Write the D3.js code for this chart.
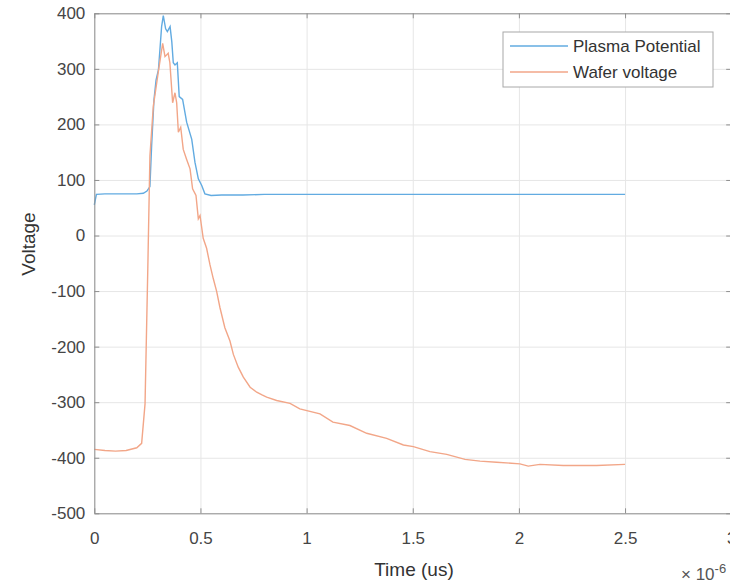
<!DOCTYPE html>
<html>
<head>
<meta charset="utf-8">
<script src="https://d3js.org/d3.v7.min.js"></script>
<style>
  body { margin: 0; background: #fff; }
  text { font-family: "Liberation Sans", Arial, sans-serif; }
</style>
</head>
<body>
<div id="chart"></div>
<script>
// time in microseconds (axis shows x 10^-6), voltage in V
var plasmaTime = [0, 0.01, 0.05, 0.1, 0.15, 0.2, 0.231, 0.248, 0.262, 0.270, 0.281, 0.291, 0.302, 0.309, 0.317, 0.325,
  0.336, 0.344, 0.357, 0.365, 0.372, 0.380, 0.391, 0.400, 0.416, 0.435, 0.459, 0.474, 0.490, 0.506, 0.521,
  0.55, 0.6, 0.7, 0.8, 1.0, 1.2, 1.5, 1.8, 2.0, 2.2, 2.5];
var plasmaVolt = [55, 74, 75, 75, 75, 75, 76, 80, 88, 161, 244, 280, 298, 334, 376, 396,
  372, 367, 376, 349, 311, 307, 311, 250, 245, 204, 173, 132, 102, 90, 75,
  72, 73, 73, 74, 74, 74, 74, 74, 74, 74, 74];

var waferTime = [0, 0.05, 0.1, 0.15, 0.2, 0.223, 0.239, 0.252, 0.262, 0.278, 0.301, 0.322, 0.333, 0.348, 0.356,
  0.369, 0.380, 0.388, 0.396, 0.407, 0.419, 0.435, 0.451, 0.463, 0.479, 0.490, 0.498, 0.513, 0.529, 0.545,
  0.560, 0.576, 0.592, 0.615, 0.639, 0.655, 0.678, 0.702, 0.734, 0.765, 0.790, 0.812, 0.859, 0.922, 0.968, 1.063,
  1.124, 1.204, 1.283, 1.377, 1.456, 1.503, 1.581, 1.660, 1.746, 1.817, 1.895, 2.005, 2.044, 2.099, 2.209,
  2.366, 2.5];
var waferVolt = [-385, -387, -388, -387, -382, -374, -303, -60, 143, 233, 293, 346, 322, 328, 311,
  239, 257, 239, 186, 195, 155, 137, 120, 84, 72, 30, 36, -5, -23, -53,
  -77, -100, -130, -166, -190, -214, -237, -255, -273, -282, -287, -291, -297, -302, -312, -321,
  -336, -342, -356, -365, -377, -380, -389, -394, -403, -406, -408, -411, -415, -412, -414,
  -414, -412];

var xTicks = [0, 0.5, 1, 1.5, 2, 2.5, 3];
var yTicks = [-500, -400, -300, -200, -100, 0, 100, 200, 300, 400];
var seriesNames = ["Plasma Potential", "Wafer voltage"];
var seriesColors = ["#62abe1", "#f2a688"];

var margin = {top: 13.3, right: -1.2, bottom: 70, left: 94.3},
    W = 730, H = 585,
    width = W - margin.left - margin.right,
    height = H - margin.top - margin.bottom - 1.7;

var svg = d3.select("#chart")
  .append("svg")
    .attr("width", W)
    .attr("height", H)
  .append("g")
    .attr("transform", "translate(" + margin.left + "," + margin.top + ")");

var x = d3.scaleLinear().domain([0, 3]).range([0, width]);
var y = d3.scaleLinear().domain([-500, 400]).range([height, 0]);

// grid
svg.append("g")
  .attr("class", "grid")
  .call(d3.axisBottom(x).tickValues(xTicks).tickSize(height).tickFormat(""));
svg.append("g")
  .attr("class", "grid")
  .call(d3.axisLeft(y).tickValues(yTicks).tickSize(-width).tickFormat(""));
svg.selectAll(".grid .domain").remove();
svg.selectAll(".grid line").attr("stroke", "#e6e6e6");

// lines
var plasma = plasmaTime.map(function(t, i) { return [t, plasmaVolt[i]]; });
var wafer = waferTime.map(function(t, i) { return [t, waferVolt[i]]; });
var line = d3.line()
  .x(function(d) { return x(d[0]); })
  .y(function(d) { return y(d[1]); });

svg.append("path")
  .datum(plasma)
  .attr("d", line)
  .attr("fill", "none")
  .attr("stroke", seriesColors[0])
  .attr("stroke-width", 1.4);
svg.append("path")
  .datum(wafer)
  .attr("d", line)
  .attr("fill", "none")
  .attr("stroke", seriesColors[1])
  .attr("stroke-width", 1.4);

// axes, ticks pointing in (plain hyphen for negatives like matlab)
var fmt = function(d) { return String(d); };
svg.append("g")
  .attr("class", "ax")
  .attr("transform", "translate(0," + height + ")")
  .call(d3.axisBottom(x).tickValues(xTicks).tickSizeInner(-5).tickSizeOuter(0).tickPadding(19).tickFormat(fmt));
svg.append("g")
  .attr("class", "ax")
  .call(d3.axisLeft(y).tickValues(yTicks).tickSizeInner(-5).tickSizeOuter(0).tickPadding(9).tickFormat(fmt));
svg.append("g")
  .attr("class", "ax")
  .call(d3.axisTop(x).tickValues(xTicks).tickSizeInner(-5).tickSizeOuter(0).tickFormat(""));
svg.append("g")
  .attr("class", "ax")
  .attr("transform", "translate(" + width + ",0)")
  .call(d3.axisRight(y).tickValues(yTicks).tickSizeInner(-5).tickSizeOuter(0).tickFormat(""));

svg.selectAll(".ax .domain").attr("stroke", "#8f8f8f");
svg.selectAll(".ax line").attr("stroke", "#8f8f8f");
svg.selectAll(".ax text")
  .attr("fill", "#454545")
  .style("font-size", "17px");

// axis labels
svg.append("text")
  .attr("text-anchor", "middle")
  .attr("x", 414 - margin.left)
  .attr("y", 576 - margin.top)
  .attr("fill", "#333")
  .style("font-size", "19px")
  .text("Time (us)");

svg.append("text")
  .attr("text-anchor", "middle")
  .attr("transform", "translate(" + (35 - margin.left) + "," + (244 - margin.top) + ") rotate(-90)")
  .attr("fill", "#333")
  .style("font-size", "19px")
  .text("Voltage");

var expo = svg.append("text")
  .attr("x", 681 - margin.left)
  .attr("y", 580 - margin.top)
  .attr("fill", "#555")
  .style("font-size", "17px");
expo.append("tspan").text("\u00d7 10");
expo.append("tspan")
  .attr("dy", -7)
  .style("font-size", "13px")
  .text("-6");

// legend
var lg = svg.append("g")
  .attr("transform", "translate(" + (503 - margin.left) + "," + (32 - margin.top) + ")");
lg.append("rect")
  .attr("width", 210)
  .attr("height", 55)
  .attr("fill", "#fff")
  .attr("stroke", "#a8a8a8");
seriesNames.forEach(function(name, i) {
  var cy = 14 + i * 26;
  lg.append("line")
    .attr("x1", 7).attr("x2", 65)
    .attr("y1", cy).attr("y2", cy)
    .attr("stroke", seriesColors[i])
    .attr("stroke-width", 1.4);
  lg.append("text")
    .attr("x", 70)
    .attr("y", cy + 6)
    .attr("fill", "#333")
    .style("font-size", "17px")
    .text(name);
});
</script>
</body>
</html>
